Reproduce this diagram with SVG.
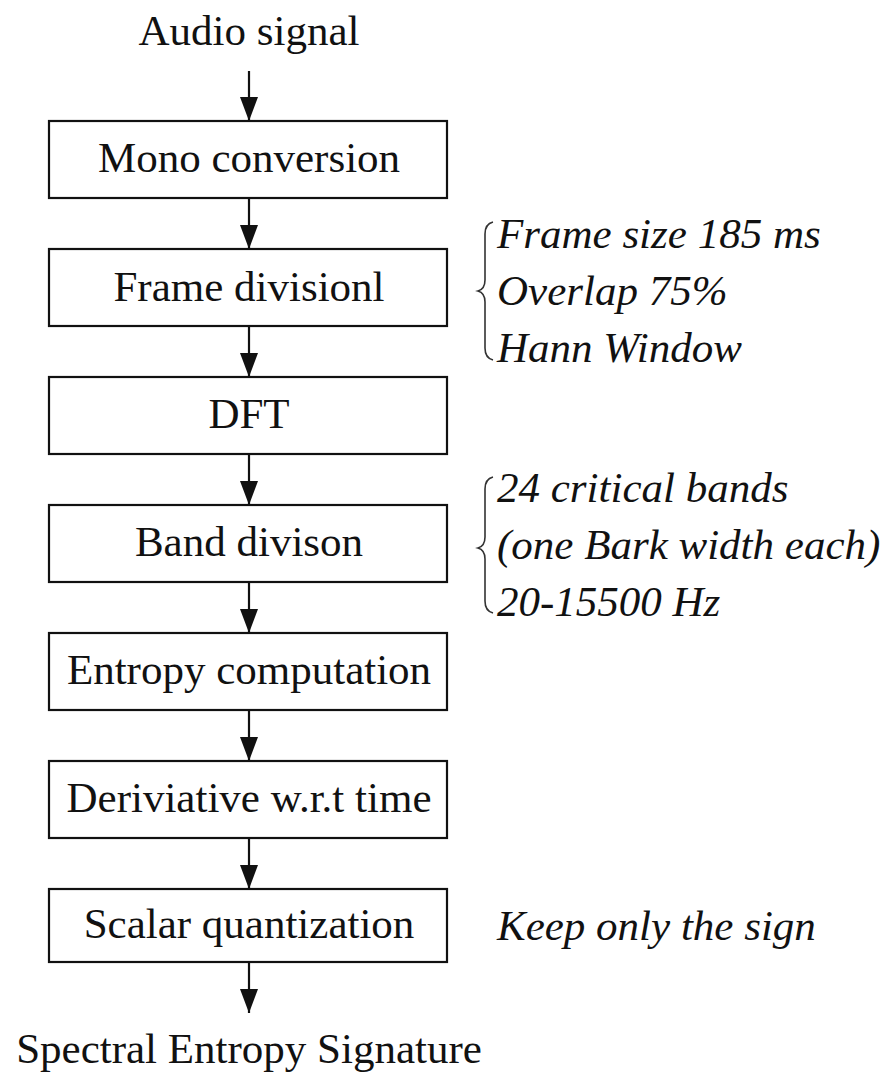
<svg xmlns="http://www.w3.org/2000/svg" width="889" height="1074" viewBox="0 0 889 1074">
<style>
.box{fill:#fff;stroke:#111;stroke-width:2.2}
.t{font-family:"Liberation Serif","Times New Roman",serif;font-size:43px;fill:#111;text-anchor:middle}
.n{font-family:"Liberation Serif","Times New Roman",serif;font-size:43px;font-style:italic;fill:#111}
.c{stroke:#111;stroke-width:2.2;fill:none}
.br{stroke:#333;stroke-width:1.6;fill:none}
</style>
<defs>
<marker id="ah" markerUnits="userSpaceOnUse" viewBox="0 0 24 18" refX="24" refY="9" markerWidth="24" markerHeight="18" orient="auto">
<path d="M0,0 L24,9 L0,18 z" fill="#111"/>
</marker>
</defs>
<rect width="889" height="1074" fill="#fff"/>
<text class="t" x="249" y="45">Audio signal</text>
<g id="connectors">
<line class="c" x1="249" y1="71" x2="249" y2="121" marker-end="url(#ah)"/>
<line class="c" x1="249" y1="198" x2="249" y2="249" marker-end="url(#ah)"/>
<line class="c" x1="249" y1="326" x2="249" y2="377" marker-end="url(#ah)"/>
<line class="c" x1="249" y1="454" x2="249" y2="505" marker-end="url(#ah)"/>
<line class="c" x1="249" y1="582" x2="249" y2="633" marker-end="url(#ah)"/>
<line class="c" x1="249" y1="710" x2="249" y2="761" marker-end="url(#ah)"/>
<line class="c" x1="249" y1="838" x2="249" y2="889" marker-end="url(#ah)"/>
<line class="c" x1="249" y1="962" x2="249" y2="1013" marker-end="url(#ah)"/>
</g>
<g id="mono"><rect class="box" x="49" y="121" width="398" height="77"/><text class="t" x="249" y="172">Mono conversion</text></g>
<g id="frame"><rect class="box" x="49" y="249" width="398" height="77"/><text class="t" x="249" y="301">Frame divisionl</text></g>
<g id="dft"><rect class="box" x="49" y="377" width="398" height="77"/><text class="t" x="249" y="428">DFT</text></g>
<g id="band"><rect class="box" x="49" y="505" width="398" height="77"/><text class="t" x="249" y="556">Band divison</text></g>
<g id="entropy"><rect class="box" x="49" y="633" width="398" height="77"/><text class="t" x="249" y="684">Entropy computation</text></g>
<g id="deriv"><rect class="box" x="49" y="761" width="398" height="77"/><text class="t" x="249" y="812">Deriviative w.r.t time</text></g>
<g id="scalar"><rect class="box" x="49" y="889" width="398" height="73"/><text class="t" x="249" y="938">Scalar quantization</text></g>
<text class="t" x="249" y="1063">Spectral Entropy Signature</text>
<g id="note1">
<path class="br" d="M493,222 Q485,224 485,234 L485,280 Q485,289 478,291 Q485,293 485,302 L485,348 Q485,358 493,360"/>
<text class="n" x="497" y="248">Frame size 185 ms</text>
<text class="n" x="497" y="305">Overlap 75%</text>
<text class="n" x="497" y="362">Hann Window</text>
</g>
<g id="note2">
<path class="br" d="M493,477 Q485,479 485,489 L485,537 Q485,546 478,548 Q485,550 485,559 L485,601 Q485,611 493,613"/>
<text class="n" x="497" y="502">24 critical bands</text>
<text class="n" x="497" y="559">(one Bark width each)</text>
<text class="n" x="497" y="616">20-15500 Hz</text>
</g>
<g id="note3">
<text class="n" x="497" y="940">Keep only the sign</text>
</g>
</svg>
